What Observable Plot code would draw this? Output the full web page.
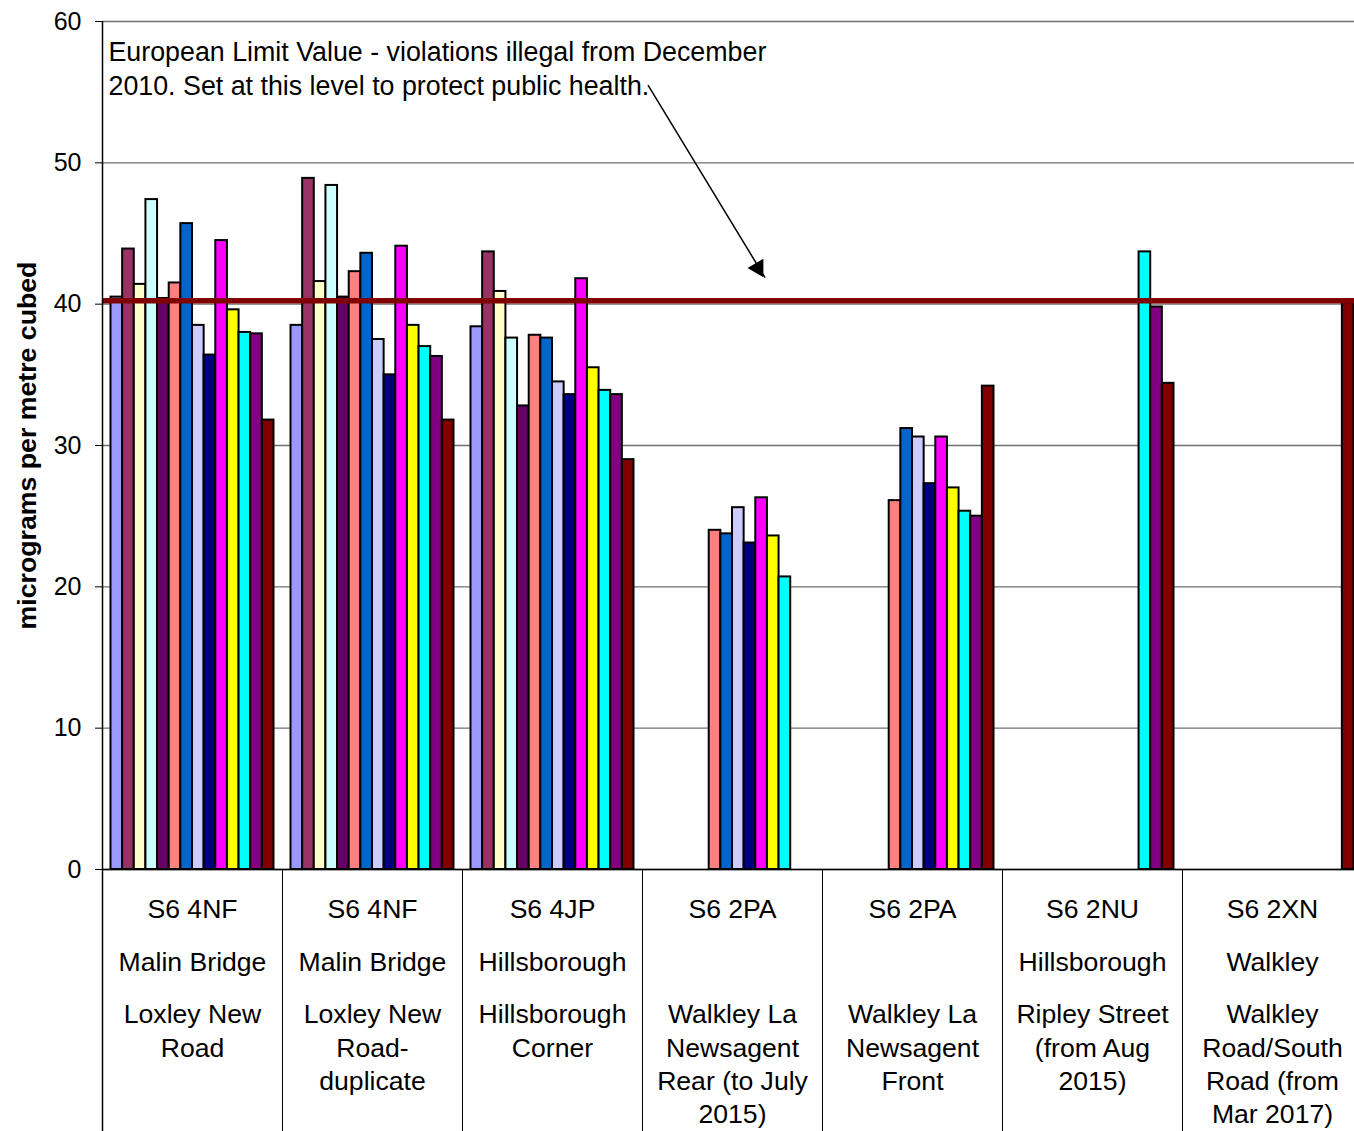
<!DOCTYPE html>
<html>
<head>
<meta charset="utf-8">
<script src="https://cdn.jsdelivr.net/npm/d3@7"></script>
<script src="https://cdn.jsdelivr.net/npm/@observablehq/plot@0.6"></script>
<style>
  html, body { margin: 0; padding: 0; background: #fff; overflow: hidden; }
  #chart { width: 1362px; }
</style>
</head>
<body>
<div id="chart"></div>
<script>
// ---- data ----
const years = ["2004","2005","2006","2007","2008","2009","2010","2011","2012","2013","2014","2015","2016","2017"];
const seriesColors = ["#9999FF","#993366","#FFFFCC","#CCFFFF","#660066","#FF8080","#0066CC","#CCCCFF","#000080","#FF00FF","#FFFF00","#00FFFF","#800080","#800000"];

const siteKeys = ["site1","site2","site3","site4","site5","site6","site7"];
const postcodes = ["S6 4NF","S6 4NF","S6 4JP","S6 2PA","S6 2PA","S6 2NU","S6 2XN"];
const areas = ["Malin Bridge","Malin Bridge","Hillsborough","","","Hillsborough","Walkley"];
const streets = [
  "Loxley New\nRoad",
  "Loxley New\nRoad-\nduplicate",
  "Hillsborough\nCorner",
  "Walkley La\nNewsagent\nRear (to July\n2015)",
  "Walkley La\nNewsagent\nFront",
  "Ripley Street\n(from Aug\n2015)",
  "Walkley\nRoad/South\nRoad (from\nMar 2017)"
];

const malinBridge        = [40.5, 43.9, 41.4, 47.4, 40.4, 41.5, 45.7, 38.5, 36.4, 44.5, 39.6, 38.0, 37.9, 31.8];
const malinBridgeDup     = [38.5, 48.9, 41.6, 48.4, 40.5, 42.3, 43.6, 37.5, 35.0, 44.1, 38.5, 37.0, 36.3, 31.8];
const hillsboroughCorner = [38.4, 43.7, 40.9, 37.6, 32.8, 37.8, 37.6, 34.5, 33.6, 41.8, 35.5, 33.9, 33.6, 29.0];
const walkleyRear        = [null, null, null, null, null, 24.0, 23.75, 25.6, 23.1, 26.3, 23.6, 20.7, null, null];
const walkleyFront       = [null, null, null, null, null, 26.1, 31.2, 30.6, 27.3, 30.6, 27.0, 25.35, 25.0, 34.2];
const ripleyStreet       = [null, null, null, null, null, null, null, null, null, null, null, 43.7, 39.8, 34.4];
const walkleyRoad        = [null, null, null, null, null, null, null, null, null, null, null, null, null, 40.1];
const siteValues = [malinBridge, malinBridgeDup, hillsboroughCorner, walkleyRear, walkleyFront, ripleyStreet, walkleyRoad];

const yTicks = [0, 10, 20, 30, 40, 50, 60];
const limitValue = 40.25;
const annotationText = "European Limit Value - violations illegal from December\n2010. Set at this level to protect public health.";
const arrowFrom = [years[0], 55.47];
const arrowTo = [years[10], 41.91];
const arrowHeadAt = [years[9], 42.56];
const yLabel = "micrograms per metre cubed";

// ---- tables ----
const table = [];
siteKeys.forEach((k, i) => {
  siteValues[i].forEach((v, j) => {
    if (v != null) table.push({site: k, year: years[j], value: v});
  });
});
const sites = siteKeys.map((k, i) => ({key: k, postcode: postcodes[i], area: areas[i], street: streets[i]}));

const font = "'Liberation Sans', Arial, sans-serif";

const chart = Plot.plot({
  width: 1362,
  height: 1131,
  marginTop: 21,
  marginBottom: 262,
  marginLeft: 102,
  marginRight: 0,
  style: {fontFamily: font, background: "#fff", color: "#000", overflow: "visible"},
  fx: {domain: siteKeys, padding: 0, label: null},
  x: {domain: years, paddingInner: 0, paddingOuter: 0.73, round: false, axis: null},
  y: {domain: [0, 60], label: null},
  color: {type: "ordinal", domain: years, range: seriesColors},
  marks: [
    Plot.gridY(yTicks, {stroke: "#707070", strokeOpacity: 1, strokeWidth: 1.3}),
    Plot.barY(table, {fx: "site", x: "year", y: "value", fill: "year", stroke: "#000", strokeWidth: 2}),
    Plot.ruleY([limitValue], {stroke: "#800000", strokeWidth: 5.5}),
    Plot.ruleY([0], {stroke: "#000", strokeWidth: 1.5}),
    Plot.axisY({ticks: yTicks, tickSize: 7, tickPadding: 14, fontSize: 25, label: null}),
    Plot.axisFx({anchor: "bottom", tickSize: 262, dx: -90, tickFormat: () => "", label: null}),
    Plot.ruleX([siteKeys[0]], {fx: d => d, x: () => years[0], dx: -14.32, insetBottom: -262, stroke: "#000", strokeWidth: 1.5}),
    Plot.text(sites, {fx: "key", text: "postcode", frameAnchor: "bottom", dy: 39.5, lineAnchor: "middle", fontSize: 26.6}),
    Plot.text(sites, {fx: "key", text: "area", frameAnchor: "bottom", dy: 92.5, lineAnchor: "middle", fontSize: 26.6}),
    Plot.text(sites, {fx: "key", text: "street", frameAnchor: "bottom", dy: 130, lineAnchor: "top", lineHeight: 1.255, fontSize: 26.6}),
    Plot.text([annotationText], {fx: () => siteKeys[0], text: d => d, frameAnchor: "top-left", dx: 6, dy: 15.5, lineAnchor: "top", textAnchor: "start", fontSize: 26.8, lineHeight: 1.27}),
    Plot.arrow([0], {fx: () => siteKeys[3], x1: () => arrowFrom[0], y1: () => arrowFrom[1], x2: () => arrowTo[0], y2: () => arrowTo[1], dx: -8.5, stroke: "#000", strokeWidth: 1.5, headLength: 0}),
    Plot.dot([0], {fx: () => siteKeys[3], x: () => arrowHeadAt[0], y: () => arrowHeadAt[1], dx: -3.5, symbol: "triangle", r: 6.8, rotate: 150, fill: "#000", stroke: "none"}),
    Plot.text([yLabel], {fx: () => siteKeys[0], text: d => d, frameAnchor: "left", dx: -75, rotate: -90, fontWeight: "bold", fontSize: 26.7, textAnchor: "middle", lineAnchor: "middle"})
  ]
});
document.getElementById("chart").appendChild(chart);
</script>
</body>
</html>
